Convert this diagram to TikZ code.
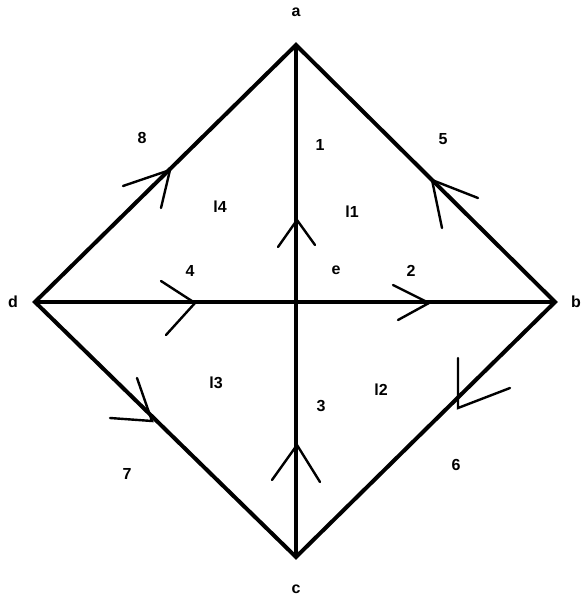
\documentclass[tikz,border=0pt]{standalone}
\usepackage{fontspec}
\setmainfont{Liberation Sans}
\begin{document}
\begin{tikzpicture}[x=1pt,y=-1pt,
  edge/.style={line width=4pt},
  arm/.style={line width=2.4pt,line cap=round},
  lbl/.style={font=\fontsize{16}{16}\bfseries\selectfont,inner sep=0pt}]
\useasboundingbox (0,0) rectangle (581,601);
\coordinate (a) at (296,45);
\coordinate (b) at (555,302);
\coordinate (c) at (296,557);
\coordinate (d) at (35,302);
\coordinate (e) at (296,302);
\draw[edge,line join=miter] (a) -- (b) -- (c) -- (d) -- cycle;
\draw[edge] (a) -- (c);
\draw[edge] (d) -- (b);
% arrow tips
\coordinate (t8) at (170,170);
\draw[arm] (123,186) -- (t8) -- (161,208);
\coordinate (t5) at (432,180);
\draw[arm] (478,198) -- (t5) -- (442,228);
\coordinate (t1) at (297,220);
\draw[arm] (278,247) -- (t1) -- (315,245);
\coordinate (t4) at (195,303);
\draw[arm] (161,281) -- (t4) -- (166,335);
\coordinate (t2) at (429,303);
\draw[arm] (393,285) -- (t2) -- (398,320);
\coordinate (t7) at (152,421);
\draw[arm] (137,378) -- (t7) -- (110,418);
\coordinate (t6) at (458,408);
\draw[arm] (458,358) -- (t6) -- (510,388);
\coordinate (t3) at (297,445);
\draw[arm] (272,480) -- (t3) -- (320,482);
% labels
\node[lbl] (la) at (296,12) {a};
\node[lbl] (lb) at (576,302) {b};
\node[lbl] (lc) at (296,589) {c};
\node[lbl] (ld) at (13,302) {d};
\node[lbl] (le) at (336,270) {e};
\node[lbl] (n8) at (142,138) {8};
\node[lbl] (n1) at (320,145) {1};
\node[lbl] (n5) at (443,139) {5};
\node[lbl] (l4) at (220,207) {l4};
\node[lbl] (l1) at (352,212) {l1};
\node[lbl] (n4) at (190,271) {4};
\node[lbl] (n2) at (411,271) {2};
\node[lbl] (l3) at (216,383) {l3};
\node[lbl] (l2) at (381,390) {l2};
\node[lbl] (n3) at (321,406) {3};
\node[lbl] (n7) at (127,474) {7};
\node[lbl] (n6) at (456,465) {6};
\end{tikzpicture}
\end{document}
